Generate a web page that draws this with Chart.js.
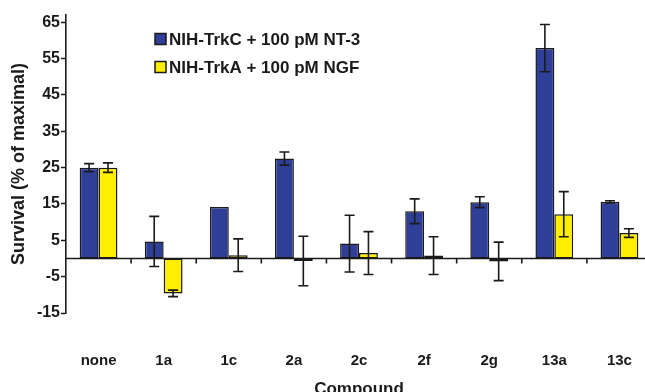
<!DOCTYPE html>
<html>
<head>
<meta charset="utf-8">
<script src="https://cdn.jsdelivr.net/npm/chart.js@4"></script>
<style>
  html, body { margin: 0; padding: 0; background: #fff; overflow: hidden; }
  #wrap { position: relative; width: 656px; height: 400px; }
</style>
</head>
<body>
<div id="wrap"><canvas id="c" width="656" height="400"></canvas></div>
<script>
const categories = ['none', '1a', '1c', '2a', '2c', '2f', '2g', '13a', '13c'];
const trkCLabel = 'NIH-TrkC + 100 pM NT-3';
const trkCValues = [25, 4.7, 14.2, 27.5, 4.1, 13.0, 15.5, 57.9, 15.6];
const trkCErrors = [1.1, 6.9, 0, 1.8, 7.8, 3.4, 1.5, 6.5, 0.3];
const trkALabel = 'NIH-TrkA + 100 pM NGF';
const trkAValues = [25, -9.6, 0.9, -0.7, 1.5, 0.8, -0.8, 12.2, 7.0];
const trkAErrors = [1.3, 0.9, 4.5, 6.8, 5.9, 5.2, 5.3, 6.2, 1.2];
const yTicks = [-15, -5, 5, 15, 25, 35, 45, 55, 65];
const yTitle = 'Survival (% of maximal)';
const xTitle = 'Compound';

const BLUE = '#2f3f98';
const YELLOW = '#ffee00';
const INK = '#1a1a1a';
const FONT = '"Liberation Sans", Arial, sans-serif';

const errorBars = {
  id: 'errorBars',
  afterDatasetsDraw(chart) {
    const ctx = chart.ctx;
    const y = chart.scales.y;
    const errs = [trkCErrors, trkAErrors];
    ctx.save();
    ctx.strokeStyle = INK;
    ctx.lineWidth = 1.6;
    chart.data.datasets.forEach((ds, di) => {
      const meta = chart.getDatasetMeta(di);
      meta.data.forEach((bar, i) => {
        const e = errs[di][i];
        if (!e) return;
        const v = ds.data[i];
        const yt = y.getPixelForValue(v + e);
        const yb = y.getPixelForValue(v - e);
        const x = bar.x;
        ctx.beginPath();
        ctx.moveTo(x, yt); ctx.lineTo(x, yb);
        ctx.moveTo(x - 5, yt); ctx.lineTo(x + 5, yt);
        ctx.moveTo(x - 5, yb); ctx.lineTo(x + 5, yb);
        ctx.stroke();
      });
    });
    ctx.restore();
  }
};

const zeroLine = {
  id: 'zeroLine',
  afterDatasetsDraw(chart) {
    const ctx = chart.ctx;
    const x = chart.scales.x;
    const y = chart.scales.y;
    const y0 = y.getPixelForValue(0);
    ctx.save();
    ctx.strokeStyle = INK;
    ctx.lineWidth = 1.6;
    ctx.beginPath();
    ctx.moveTo(chart.chartArea.left, y0);
    ctx.lineTo(chart.chartArea.right, y0);
    for (let i = 1; i < categories.length; i++) {
      const bx = (x.getPixelForTick(i - 1) + x.getPixelForTick(i)) / 2;
      ctx.moveTo(bx, y0);
      ctx.lineTo(bx, y0 + 5);
    }
    ctx.stroke();
    ctx.restore();
  }
};

const customLegend = {
  id: 'customLegend',
  afterDraw(chart) {
    const ctx = chart.ctx;
    const left = 155, rows = [39, 67];
    ctx.save();
    ctx.font = 'bold 17px ' + FONT;
    ctx.textBaseline = 'middle';
    chart.data.datasets.forEach((ds, i) => {
      const cy = rows[i];
      ctx.fillStyle = ds.backgroundColor;
      ctx.fillRect(left, cy - 5.5, 11, 11);
      ctx.strokeStyle = INK;
      ctx.lineWidth = 1.5;
      ctx.strokeRect(left, cy - 5.5, 11, 11);
      ctx.fillStyle = INK;
      ctx.fillText(ds.label, left + 14, cy + 1);
    });
    ctx.restore();
  }
};

new Chart(document.getElementById('c'), {
  type: 'bar',
  data: {
    labels: categories,
    datasets: [
      { label: trkCLabel, data: trkCValues, backgroundColor: BLUE, borderColor: INK, borderWidth: 1.5, borderSkipped: false },
      { label: trkALabel, data: trkAValues, backgroundColor: YELLOW, borderColor: INK, borderWidth: 1.5, borderSkipped: false }
    ]
  },
  options: {
    responsive: false,
    animation: false,
    layout: { padding: { left: 0, right: 4, top: 15, bottom: 0 } },
    datasets: { bar: { categoryPercentage: 0.58, barPercentage: 1.0 } },
    plugins: { legend: { display: false }, tooltip: { enabled: false } },
    scales: {
      x: {
        grid: { display: false },
        border: { display: false },
        ticks: { color: INK, font: { family: FONT, weight: 'bold', size: 15 }, padding: 31, maxRotation: 0 },
        title: { display: true, text: xTitle, color: INK, font: { family: FONT, weight: 'bold', size: 17 }, padding: { top: 2, bottom: 0 } },
        afterFit(scale) { scale.height = 87; scale.paddingLeft = 0; scale.paddingRight = 0; }
      },
      y: {
        min: -15,
        max: 67,
        afterBuildTicks(scale) { scale.ticks = yTicks.map(v => ({ value: v })); },
        grid: { drawOnChartArea: false, tickLength: 5, tickColor: INK, tickWidth: 1.5 },
        border: { display: true, color: INK, width: 1.6 },
        ticks: { color: INK, font: { family: FONT, weight: 'bold', size: 16 }, padding: 1 },
        title: { display: true, text: yTitle, color: INK, font: { family: FONT, weight: 'bold', size: 18 }, padding: { top: 8, bottom: 0 } },
        afterFit(scale) { scale.width = 66; scale.paddingTop = 0; scale.paddingBottom = 0; }
      }
    }
  },
  plugins: [zeroLine, errorBars, customLegend]
});
</script>
</body>
</html>
